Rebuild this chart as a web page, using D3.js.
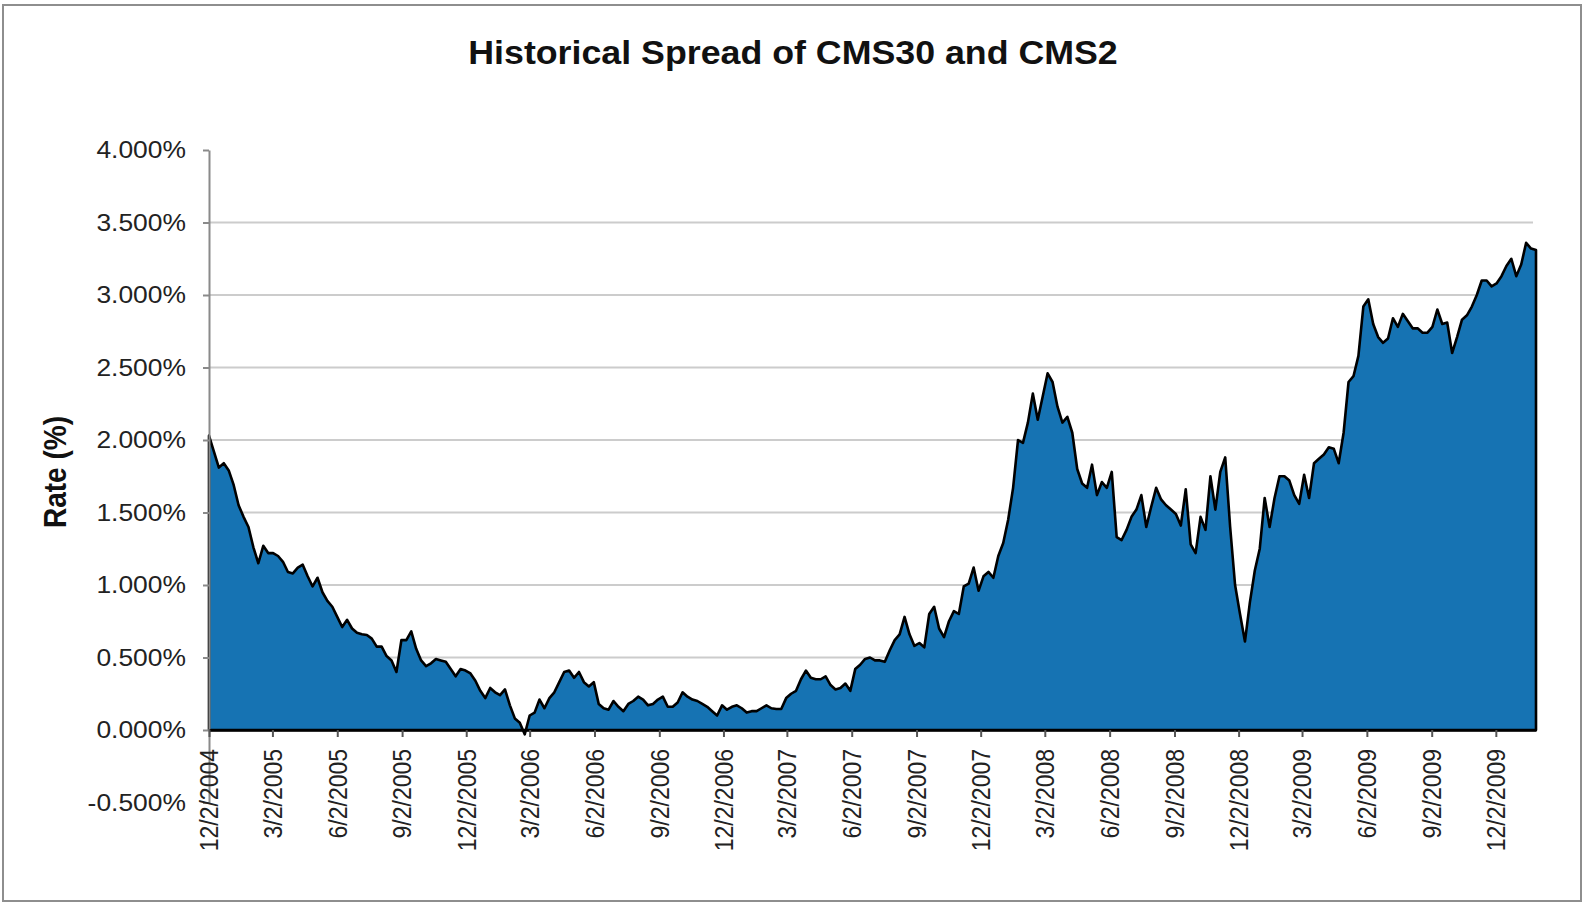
<!DOCTYPE html>
<html>
<head>
<meta charset="utf-8">
<script src="https://cdn.jsdelivr.net/npm/d3@7"></script>
<style>
  body { margin: 0; background: #fff; }
  svg { display: block; font-family: "Liberation Sans", Arial, sans-serif; }
</style>
</head>
<body>
<svg id="chart" width="1583" height="903"></svg>
<script>
// weekly spread readings (%), first point 12/2/2004, one value per week
const startDate = "12/2/2004";
const spread2004 = [2.03, 1.92, 1.81, 1.84, 1.79];
const spread2005 = [1.69, 1.55, 1.47, 1.40, 1.26, 1.15, 1.27, 1.22, 1.22, 1.20, 1.16, 1.09, 1.08,
  1.12, 1.14, 1.06, 0.99, 1.05, 0.95, 0.89, 0.85, 0.78, 0.71, 0.76, 0.70, 0.67, 0.66, 0.655,
  0.63, 0.575, 0.575, 0.51, 0.48, 0.40, 0.62, 0.62, 0.68, 0.56, 0.48, 0.44, 0.46, 0.49, 0.48,
  0.47, 0.42, 0.37, 0.42, 0.41, 0.39, 0.34, 0.27, 0.22];
const spread2006 = [0.29, 0.26, 0.24, 0.28, 0.17, 0.08, 0.05, -0.03, 0.10, 0.12, 0.21, 0.15, 0.22,
  0.26, 0.33, 0.40, 0.41, 0.36, 0.40, 0.33, 0.30, 0.33, 0.18, 0.15, 0.14, 0.20, 0.16, 0.13,
  0.18, 0.20, 0.23, 0.21, 0.17, 0.18, 0.21, 0.23, 0.16, 0.16, 0.19, 0.26, 0.23, 0.21, 0.20,
  0.18, 0.16, 0.13, 0.10, 0.17, 0.14, 0.16, 0.17, 0.15];
const spread2007 = [0.12, 0.13, 0.13, 0.15, 0.17, 0.15, 0.145, 0.145, 0.22, 0.25, 0.27, 0.35, 0.41,
  0.36, 0.35, 0.35, 0.37, 0.31, 0.28, 0.29, 0.32, 0.27, 0.42, 0.45, 0.49, 0.50, 0.48, 0.48,
  0.47, 0.55, 0.62, 0.66, 0.78, 0.66, 0.58, 0.60, 0.57, 0.80, 0.85, 0.70, 0.64, 0.75, 0.82,
  0.80, 0.99, 1.01, 1.12, 0.96, 1.06, 1.09, 1.05, 1.20];
const spread2008 = [1.29, 1.45, 1.67, 2.00, 1.98, 2.12, 2.32, 2.14, 2.30, 2.46, 2.40, 2.23, 2.12,
  2.16, 2.05, 1.80, 1.70, 1.67, 1.83, 1.62, 1.71, 1.67, 1.78, 1.33, 1.31, 1.38, 1.47, 1.52,
  1.62, 1.40, 1.54, 1.67, 1.59, 1.55, 1.52, 1.49, 1.41, 1.66, 1.28, 1.22, 1.47, 1.38, 1.75,
  1.52, 1.78, 1.88, 1.40, 1.00, 0.80, 0.61, 0.88, 1.10];
const spread2009 = [1.25, 1.60, 1.40, 1.60, 1.75, 1.75, 1.72, 1.62, 1.56, 1.76, 1.60, 1.84, 1.87,
  1.90, 1.95, 1.94, 1.84, 2.05, 2.40, 2.44, 2.58, 2.92, 2.97, 2.80, 2.71, 2.67, 2.70, 2.84,
  2.78, 2.87, 2.82, 2.77, 2.77, 2.74, 2.74, 2.78, 2.90, 2.80, 2.81, 2.60, 2.71, 2.83, 2.86,
  2.92, 3.00, 3.10, 3.10, 3.06, 3.08, 3.13, 3.20, 3.25, 3.13];
const spread2010 = [3.21, 3.36, 3.32, 3.31];

const xTickLabels = ["12/2/2004", "3/2/2005", "6/2/2005", "9/2/2005", "12/2/2005", "3/2/2006",
  "6/2/2006", "9/2/2006", "12/2/2006", "3/2/2007", "6/2/2007", "9/2/2007", "12/2/2007",
  "3/2/2008", "6/2/2008", "9/2/2008", "12/2/2008", "3/2/2009", "6/2/2009", "9/2/2009", "12/2/2009"];
const yTicks = [-0.5, 0, 0.5, 1, 1.5, 2, 2.5, 3, 3.5, 4];

const parse = d3.timeParse("%m/%d/%Y");
const fmt = d3.timeFormat("%-m/%-d/%Y");
const t0 = parse(startDate);
const values = [].concat(spread2004, spread2005, spread2006, spread2007, spread2008, spread2009, spread2010);
const data = values.map((v, i) => ({ date: d3.timeWeek.offset(t0, i), value: v }));

const svg = d3.select("#chart");
const plotLeft = 209, plotRight = 1536, plotTop = 150, plotBottom = 802.5;

const x = d3.scaleTime()
  .domain(d3.extent(data, d => d.date))
  .range([plotLeft, plotRight]);
const y = d3.scaleLinear().domain([-0.5, 4]).range([plotBottom, plotTop]);

// outer frame
svg.append("rect")
  .attr("x", 3).attr("y", 5)
  .attr("width", 1578).attr("height", 896)
  .attr("fill", "none").attr("stroke", "#8e8e8e").attr("stroke-width", 2);

// title
svg.append("text")
  .attr("transform", "translate(793,64) scale(1.1,1)")
  .attr("text-anchor", "middle")
  .attr("font-size", 32.5).attr("font-weight", "bold").attr("fill", "#111")
  .text("Historical Spread of CMS30 and CMS2");

// y axis title
svg.append("text")
  .attr("transform", "translate(55,472) scale(1.1,1) rotate(-90)")
  .attr("text-anchor", "middle").attr("dy", "0.35em")
  .attr("font-size", 28).attr("font-weight", "bold").attr("fill", "#111")
  .text("Rate (%)");

// gridlines
svg.append("g")
  .selectAll("line")
  .data(yTicks.filter(v => v > 0 && v < 4))
  .join("line")
  .attr("x1", plotLeft).attr("x2", plotRight - 3)
  .attr("y1", d => y(d)).attr("y2", d => y(d))
  .attr("stroke", "#cccccc").attr("stroke-width", 2);

// area
const area = d3.area()
  .x(d => x(d.date))
  .y0(y(0))
  .y1(d => y(d.value));

svg.append("path")
  .datum(data)
  .attr("d", area)
  .attr("fill", "#1673b3")
  .attr("stroke", "#000")
  .attr("stroke-width", 2.6)
  .attr("stroke-linejoin", "round");

// y axis
const yAxis = svg.append("g")
  .attr("transform", `translate(${plotLeft},0)`)
  .call(d3.axisLeft(y).tickValues(yTicks).tickSize(6).tickSizeOuter(0).tickPadding(15)
    .tickFormat(d => d.toFixed(3) + "%"));
yAxis.select(".domain").attr("stroke", "#8a8a8a").attr("stroke-width", 2);
yAxis.selectAll(".tick line").attr("stroke", "#8a8a8a").attr("stroke-width", 2);
yAxis.selectAll(".tick text")
  .attr("font-size", 24).attr("fill", "#222")
  .attr("font-family", "'Liberation Sans', Arial, sans-serif")
  .attr("transform", "scale(1.1,1)");

// x axis at zero
const xAxis = svg.append("g")
  .attr("transform", `translate(0,${y(0)})`)
  .call(d3.axisBottom(x).tickValues(xTickLabels.map(parse)).tickFormat(fmt)
    .tickSize(7).tickSizeOuter(0));
xAxis.select(".domain").attr("stroke", "#000").attr("stroke-width", 2.5);
xAxis.selectAll(".tick line").attr("stroke", "#555").attr("stroke-width", 2);
xAxis.selectAll(".tick text")
  .attr("font-size", 23).attr("fill", "#222")
  .attr("font-family", "'Liberation Sans', Arial, sans-serif")
  .attr("x", 0).attr("y", 0).attr("dy", "0.35em")
  .attr("text-anchor", "end")
  .attr("transform", "translate(0,19) scale(1.1,1) rotate(-90)");
</script>
</body>
</html>
